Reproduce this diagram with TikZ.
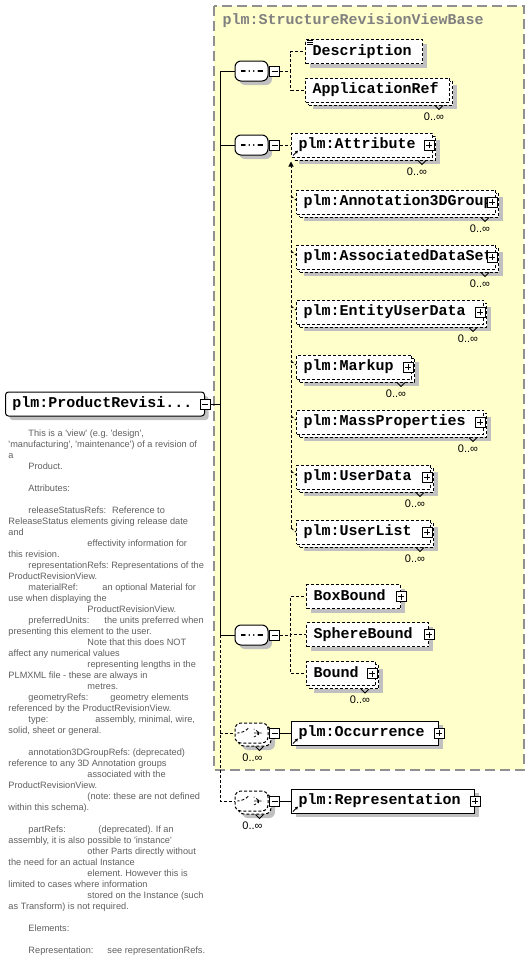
\documentclass[tikz,border=0pt]{standalone}
\usepackage{fontspec}
\newfontfamily\elfont{Liberation Mono}
\newfontfamily\docfont{Liberation Sans}
\usetikzlibrary{shadows,arrows.meta}
\definecolor{basefill}{RGB}{255,255,204}
\definecolor{basedraw}{RGB}{144,144,144}
\definecolor{shadowgray}{RGB}{192,192,192}
\definecolor{docgray}{RGB}{96,96,96}
\newcommand\doctab[2]{\makebox[#1pt][l]{#2}}
\hyphenpenalty=10000

\begin{document}
\begin{tikzpicture}[x=1pt,y=-1pt,line width=1pt]
    \tikzstyle{el}=[draw, fill=white, anchor=west, minimum height=24pt, inner xsep=7pt, inner ysep=0pt, text height=10pt, text depth=3pt, align=left, font=\elfont\bfseries\fontsize{15}{16}\selectfont]
    \tikzstyle{opt}=[dash pattern=on 3pt off 2pt]
    \tikzstyle{sgl}=[drop shadow={shadow xshift=4pt, shadow yshift=-4pt, fill=shadowgray, opacity=1}]
    \tikzstyle{multi}=[drop shadow={shadow xshift=7pt, shadow yshift=-7pt, fill=shadowgray, opacity=1}, copy shadow={shadow xshift=3pt, shadow yshift=-3pt, fill=white, draw=black, opt}]
    \tikzstyle{root}=[el, rounded corners=3pt, sgl]
    \tikzstyle{pm}=[draw, fill=white, minimum size=10pt, inner sep=0pt, line width=0.8pt]
    \tikzstyle{minus}=[pm, path picture={\draw ([xshift=2pt]path picture bounding box.west) -- ([xshift=-2pt]path picture bounding box.east);}]
    \tikzstyle{plus}=[pm, path picture={\draw ([xshift=2pt]path picture bounding box.west) -- ([xshift=-2pt]path picture bounding box.east) ([yshift=2pt]path picture bounding box.south) -- ([yshift=-2pt]path picture bounding box.north);}]
    \tikzstyle{comp}=[rectangle, rounded corners=6pt, draw, fill=white, minimum width=33pt, minimum height=20pt, inner sep=0pt]
    \tikzstyle{seqicon}=[path picture={\coordinate (pc) at (path picture bounding box.center);
        \draw[shift={(pc)}, line width=1.2pt] (-11,0) -- (11,0);
        \fill[shift={(pc)}] (-6,-1.6) rectangle (-2.8,1.6) (-1.6,-1.6) rectangle (1.6,1.6) (2.8,-1.6) rectangle (6,1.6);}]
    \tikzstyle{choiceicon}=[path picture={\coordinate (pc) at (path picture bounding box.center);
        \draw[shift={(pc)}, line width=0.9pt] (-13,0) -- (-8,0) -- (-3,-5) (2,-4) -- (7,-4) -- (7,4) -- (2,4) (2,0) -- (12,0);
        \fill[shift={(pc)}] (-0.8,-5.6) rectangle (2.2,-2.6) (-0.8,-1.5) rectangle (2.2,1.5) (-0.8,2.6) rectangle (2.2,5.6);}]
    \tikzstyle{mult}=[inner sep=0pt, font=\docfont\fontsize{11}{11}\selectfont]
    \tikzstyle{notch}=[line width=0.8pt]
    \tikzstyle{ref}=[line width=0.8pt, -{Triangle[length=3pt, width=3pt]}]
    \tikzstyle{doc}=[anchor=north west, inner sep=0pt, align=left, text=docgray, font=\docfont\fontsize{9.2}{11}\selectfont\frenchspacing]
    \tikzstyle{title}=[anchor=west, inner sep=0pt, text=gray, font=\elfont\bfseries\fontsize{15}{16}\selectfont]
    \tikzstyle{base}=[fill=basefill, draw=basedraw, dash pattern=on 10pt off 5pt, line width=1.2pt]

    \useasboundingbox[fill=white] (0,0) rectangle (530,972);
    \draw[base] (214,6) rectangle (524,770);
    \node[title] (svb) at (222,21) {plm:StructureRevisionViewBase};

    \node[root, text width=185pt] (prv) at (5,404) {plm:ProductRevisi...};
    \node[minus] (prv-m) at (prv.east) {};

    \node[comp, seqicon, sgl] (seq1) at (251.5,71) {};
    \node[minus] (seq1-m) at (274.5,71) {};
    \node[comp, seqicon, sgl] (seq2) at (251.5,145) {};
    \node[minus] (seq2-m) at (274.5,145) {};
    \node[comp, seqicon, sgl] (seq3) at (251.5,635) {};
    \node[minus] (seq3-m) at (274.5,635) {};
    \node[comp, choiceicon, opt, multi] (ch1) at (251.5,733) {};
    \node[minus] (ch1-m) at (274.5,733) {};
    \node[comp, choiceicon, opt, multi] (ch2) at (251.5,801) {};
    \node[minus] (ch2-m) at (274.5,801) {};

    \node[el, opt, sgl, text width=103pt] (desc) at (305,51.5) {Description};
    \node[el, opt, multi, text width=130pt] (appref) at (305,90) {ApplicationRef};

    \node[el, opt, multi, text width=127pt] (attr) at (291,145) {plm:Attribute};
    \node[el, opt, multi, text width=185pt] (a3d) at (296,202) {plm:Annotation3DGroup};
    \node[el, opt, multi, text width=185pt] (ads) at (296,257) {plm:AssociatedDataSet};
    \node[el, opt, multi, text width=173pt] (eud) at (296,312) {plm:EntityUserData};
    \node[el, opt, multi, text width=101pt] (mkp) at (296,367) {plm:Markup};
    \node[el, opt, multi, text width=173pt] (mass) at (296,422) {plm:MassProperties};
    \node[el, opt, multi, text width=120pt] (udata) at (296,477) {plm:UserData};
    \node[el, opt, multi, text width=120pt] (ulist) at (296,532) {plm:UserList};

    \node[el, opt, sgl, text width=80pt] (boxb) at (306,596.5) {BoxBound};
    \node[el, opt, sgl, text width=108pt] (sphb) at (306,634.5) {SphereBound};
    \node[el, opt, multi, text width=55pt] (bnd) at (306,673.5) {Bound};

    \node[el, sgl, text width=133pt] (occ) at (291,733) {plm:Occurrence};
    \node[el, sgl, text width=169pt] (rep) at (291,801) {plm:Representation};

    \node[plus] (attr-p) at ([shift={(-4,0)}]attr.east) {};
    \node[plus] (a3d-p) at ([shift={(-4,0)}]a3d.east) {};
    \node[plus] (ads-p) at ([shift={(-4,0)}]ads.east) {};
    \node[plus] (eud-p) at ([shift={(-4,0)}]eud.east) {};
    \node[plus] (mkp-p) at ([shift={(-4,0)}]mkp.east) {};
    \node[plus] (mass-p) at ([shift={(-4,0)}]mass.east) {};
    \node[plus] (udata-p) at ([shift={(-4,0)}]udata.east) {};
    \node[plus] (ulist-p) at ([shift={(-4,0)}]ulist.east) {};
    \node[plus] (boxb-p) at (boxb.east) {};
    \node[plus] (sphb-p) at (sphb.east) {};
    \node[plus] (bnd-p) at ([shift={(-4,0)}]bnd.east) {};
    \node[plus] (occ-p) at (occ.east) {};
    \node[plus] (rep-p) at (rep.east) {};

    \node[mult] (appref-n) at ([shift={(-16,14)}]appref.south east) {0..∞};
    \node[mult] (attr-n) at ([shift={(-16,14)}]attr.south east) {0..∞};
    \node[mult] (a3d-n) at ([shift={(-16,14)}]a3d.south east) {0..∞};
    \node[mult] (ads-n) at ([shift={(-16,14)}]ads.south east) {0..∞};
    \node[mult] (eud-n) at ([shift={(-16,14)}]eud.south east) {0..∞};
    \node[mult] (mkp-n) at ([shift={(-16,14)}]mkp.south east) {0..∞};
    \node[mult] (mass-n) at ([shift={(-16,14)}]mass.south east) {0..∞};
    \node[mult] (udata-n) at ([shift={(-16,14)}]udata.south east) {0..∞};
    \node[mult] (ulist-n) at ([shift={(-16,14)}]ulist.south east) {0..∞};
    \node[mult] (bnd-n) at ([shift={(-16,14)}]bnd.south east) {0..∞};
    \node[mult] (ch1-n) at ([shift={(1,14)}]ch1.south) {0..∞};
    \node[mult] (ch2-n) at ([shift={(1,14)}]ch2.south) {0..∞};

    \draw[notch] ([shift={(-15,3)}]appref.south east) -- ++(4,4) -- ++(4,-4);
    \draw[notch] ([shift={(-15,3)}]attr.south east) -- ++(4,4) -- ++(4,-4);
    \draw[notch] ([shift={(-15,3)}]a3d.south east) -- ++(4,4) -- ++(4,-4);
    \draw[notch] ([shift={(-15,3)}]ads.south east) -- ++(4,4) -- ++(4,-4);
    \draw[notch] ([shift={(-15,3)}]eud.south east) -- ++(4,4) -- ++(4,-4);
    \draw[notch] ([shift={(-15,3)}]mkp.south east) -- ++(4,4) -- ++(4,-4);
    \draw[notch] ([shift={(-15,3)}]mass.south east) -- ++(4,4) -- ++(4,-4);
    \draw[notch] ([shift={(-15,3)}]udata.south east) -- ++(4,4) -- ++(4,-4);
    \draw[notch] ([shift={(-15,3)}]ulist.south east) -- ++(4,4) -- ++(4,-4);
    \draw[notch] ([shift={(-15,3)}]bnd.south east) -- ++(4,4) -- ++(4,-4);
    \draw[notch] ([shift={(4,3)}]ch1.south) -- ++(4,4) -- ++(4,-4);
    \draw[notch] ([shift={(4,3)}]ch2.south) -- ++(4,4) -- ++(4,-4);

    \draw[line width=0.6pt] ([shift={(2,1.5)}]desc.north west) -- ++(6,0) ([shift={(2,3.5)}]desc.north west) -- ++(6,0) ([shift={(2,5.5)}]desc.north west) -- ++(6,0);
    \draw[ref] ([shift={(2,-2)}]attr.south west) -- ++(5,-5);
    \draw[ref] ([shift={(2,-2)}]occ.south west) -- ++(5,-5);
    \draw[ref] ([shift={(2,-2)}]rep.south west) -- ++(5,-5);

    \coordinate (trk) at (220,404);
    \draw (prv-m.east) -- (prv-m.east -| trk);
    \draw (seq1.west -| trk) -- (seq3.west -| trk);
    \draw (seq1.west -| trk) -- (seq1.west);
    \draw (seq2.west -| trk) -- (seq2.west);
    \draw (seq3.west -| trk) -- (seq3.west);
    \draw[opt] (seq3.west -| trk) -- (ch2.west -| trk) -- (ch2.west);
    \draw[opt] (ch1.west -| trk) -- (ch1.west);

    \draw (seq1.east) -- (seq1-m.west);
    \draw (seq2.east) -- (seq2-m.west);
    \draw (seq3.east) -- (seq3-m.west);
    \draw (ch1.east) -- (ch1-m.west);
    \draw (ch2.east) -- (ch2-m.west);

    \draw[opt] (seq1-m.east) -- ++(11,0) |- (desc.west);
    \draw[opt] (seq1-m.east) -- ++(11,0) |- (appref.west);
    \draw[opt] (seq2-m.east) -- (attr.west);
    \draw[opt, -{Triangle[length=5pt, width=5pt]}] ([shift={(-5,-4)}]ulist.west) -- ([shift={(0,4)}]attr.south west);
    \draw[opt] ([shift={(-5,-6)}]a3d.west) -- ([shift={(0,-2)}]a3d.west);
    \draw[opt] ([shift={(-5,-6)}]ads.west) -- ([shift={(0,-2)}]ads.west);
    \draw[opt] ([shift={(-5,-6)}]eud.west) -- ([shift={(0,-2)}]eud.west);
    \draw[opt] ([shift={(-5,-6)}]mkp.west) -- ([shift={(0,-2)}]mkp.west);
    \draw[opt] ([shift={(-5,-6)}]mass.west) -- ([shift={(0,-2)}]mass.west);
    \draw[opt] ([shift={(-5,-6)}]udata.west) -- ([shift={(0,-2)}]udata.west);
    \draw[opt] ([shift={(-5,-4)}]ulist.west) -- (ulist.west);
    \draw[opt] (seq3-m.east) -- ++(11,0) |- (boxb.west);
    \draw[opt] (seq3-m.east) -- ++(11,0) |- (sphb.west);
    \draw[opt] (seq3-m.east) -- ++(11,0) |- (bnd.west);
    \draw (ch1-m.east) -- (occ.west);
    \draw (ch2-m.east) -- (rep.west);

    \node[doc] (doc) at (8,429.5) {\hspace*{20pt}This is a 'view' (e.g. 'design',\\
'manufacturing', 'maintenance') of a revision of\\
a\\
\hspace*{20pt}Product.\\
\mbox{}\\
\hspace*{20pt}Attributes:\\
\mbox{}\\
\hspace*{20pt}releaseStatusRefs:\hspace{6pt}Reference to\\
ReleaseStatus elements giving release date\\
and\\
\hspace*{79pt}effectivity information for\\
this revision.\\
\hspace*{20pt}representationRefs: Representations of the\\
ProductRevisionView.\\
\hspace*{20pt}\doctab{74}{materialRef:}an optional Material for\\
use when displaying the\\
\hspace*{79pt}ProductRevisionView.\\
\hspace*{20pt}\doctab{76}{preferredUnits:}the units preferred when\\
presenting this element to the user.\\
\hspace*{79pt}Note that this does NOT\\
affect any numerical values\\
\hspace*{79pt}representing lengths in the\\
PLMXML file - these are always in\\
\hspace*{79pt}metres.\\
\hspace*{20pt}\doctab{82}{geometryRefs:}geometry elements\\
referenced by the ProductRevisionView.\\
\hspace*{20pt}\doctab{67}{type:}assembly, minimal, wire,\\
solid, sheet or general.\\
\mbox{}\\
\hspace*{20pt}annotation3DGroupRefs: (deprecated)\\
reference to any 3D Annotation groups\\
\hspace*{79pt}associated with the\\
ProductRevisionView.\\
\hspace*{79pt}(note: these are not defined\\
within this schema).\\
\mbox{}\\
\hspace*{20pt}\doctab{70}{partRefs:}(deprecated). If an\\
assembly, it is also possible to 'instance'\\
\hspace*{79pt}other Parts directly without\\
the need for an actual Instance\\
\hspace*{79pt}element. However this is\\
limited to cases where information\\
\hspace*{79pt}stored on the Instance (such\\
as Transform) is not required.\\
\mbox{}\\
\hspace*{20pt}Elements:\\
\mbox{}\\
\hspace*{20pt}\doctab{79}{Representation:}see representationRefs.};
\end{tikzpicture}
\end{document}
